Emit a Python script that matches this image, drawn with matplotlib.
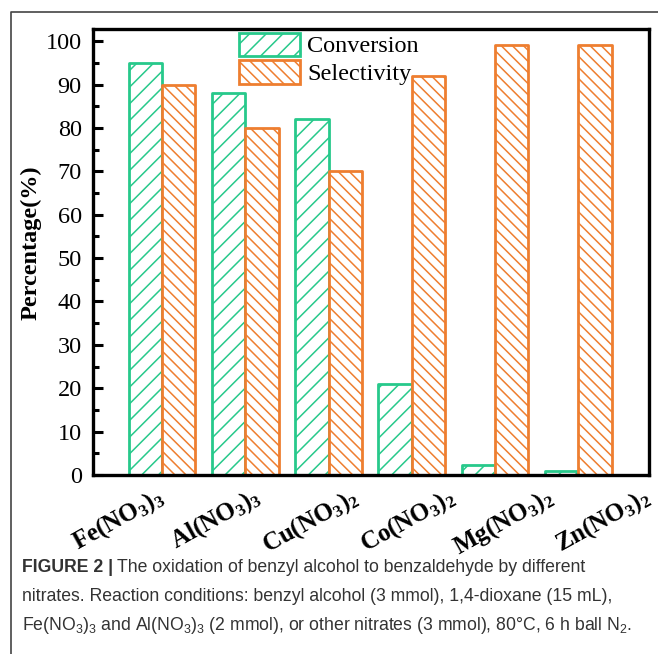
import matplotlib.pyplot as plt
import numpy as np

plt.rcParams['font.family'] = 'Liberation Serif'
plt.rcParams['mathtext.default'] = 'regular'
plt.rcParams['hatch.linewidth'] = 1.1

# data
nitrates = [r'Fe(NO$_3$)$_3$', r'Al(NO$_3$)$_3$', r'Cu(NO$_3$)$_2$',
            r'Co(NO$_3$)$_2$', r'Mg(NO$_3$)$_2$', r'Zn(NO$_3$)$_2$']
conversion = [95, 88, 82, 21, 2.2, 1]
selectivity = [90, 80, 70, 92, 99.2, 99.2]

green = '#27c98b'
orange = '#ee7e30'

fig = plt.figure(figsize=(6.58, 6.54), dpi=100)
ax = fig.add_axes([0.1413, 0.2737, 0.845, 0.682])

x = np.arange(len(nitrates))
w = 0.4
ax.bar(x - w / 2, conversion, w, facecolor='white', edgecolor=green,
       hatch='//', linewidth=2, joinstyle='round', label='Conversion')
ax.bar(x + w / 2, selectivity, w, facecolor='white', edgecolor=orange,
       hatch='\\\\\\', linewidth=2, joinstyle='round', label='Selectivity')

ax.set_xlim(-0.83, 5.85)
ax.set_ylim(0, 102.8)
ax.set_yticks(range(0, 101, 10))
ax.set_yticks(range(5, 101, 10), minor=True)
ax.tick_params(axis='y', which='major', direction='in', length=7, width=2.2,
               pad=8, labelsize=17.5)
ax.tick_params(axis='y', which='minor', direction='in', length=4, width=2.2)
ax.set_xticks([])
for s in ax.spines.values():
    s.set_linewidth(2.4)

ax.set_ylabel('Percentage(%)', fontsize=17.5, fontweight='bold')
ax.yaxis.set_label_coords(-0.092, 0.52)

# category labels, rotated, spaced a bit wider than the bars like the original
for i, name in enumerate(nitrates):
    ax.text(-0.08 + i * 1.17, -0.02, name, transform=ax.get_xaxis_transform(),
            rotation=29, rotation_mode='anchor', ha='right', va='top',
            fontsize=18, fontweight='bold', clip_on=False)

ax.legend(loc='upper left', bbox_to_anchor=(0.263, 0.992), frameon=False,
          prop={'size': 17.5}, handlelength=2.5, handleheight=1.1,
          handletextpad=0.3, labelspacing=0.12, borderpad=0, borderaxespad=0)

# outer frame of the journal figure
fig.add_artist(plt.Line2D([11 / 658, 11 / 658, 1], [0, 1 - 12 / 654, 1 - 12 / 654],
                          transform=fig.transFigure, color='#444444', linewidth=1.2))

# caption
cap_kw = dict(family='Liberation Sans', fontsize=12.7, color='#333333', va='baseline')
y1 = 1 - 572 / 654
t = fig.text(22 / 658, y1, 'FIGURE 2 |', fontweight='bold', **cap_kw)
fig.canvas.draw()
bb = t.get_window_extent(fig.canvas.get_renderer())
fig.text(bb.x1 / fig.bbox.width + 0.006, y1,
         'The oxidation of benzyl alcohol to benzaldehyde by different', **cap_kw)
fig.text(22 / 658, 1 - 601 / 654,
         'nitrates. Reaction conditions: benzyl alcohol (3 mmol), 1,4-dioxane (15 mL),',
         **cap_kw)
fig.text(22 / 658, 1 - 630 / 654,
         r'Fe(NO$_3$)$_3$ and Al(NO$_3$)$_3$ (2 mmol), or other nitrates (3 mmol), '
         r'80°C, 6 h ball N$_2$.', **cap_kw)

fig.savefig('out.png', dpi=100)
